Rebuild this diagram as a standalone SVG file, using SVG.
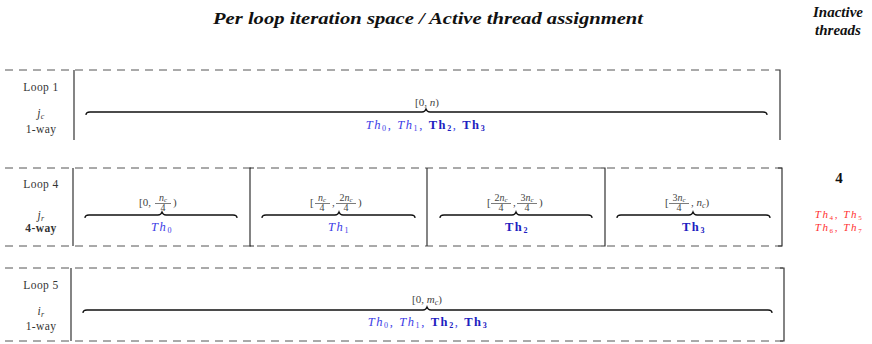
<svg xmlns="http://www.w3.org/2000/svg" width="872" height="344" viewBox="0 0 872 344" font-family="'Liberation Serif', 'DejaVu Serif', serif">
<style>
text{font-family:'Liberation Serif','DejaVu Serif',serif}
.ttl{font-size:16px;font-weight:bold;font-style:italic;fill:#111}
.lbl{font-size:11.5px;fill:#333;letter-spacing:0.4px}
.it{font-style:italic}
.b{font-weight:bold;font-style:normal}
.sub{font-size:8px}
.rng{font-size:11px;fill:#444}
.fr{font-size:10px;fill:#444}
.fr .sub{font-size:7px}
.blue{fill:#3c3ce6;font-size:12.5px;letter-spacing:1.6px}
.bb{fill:#2020c0}
.red{fill:#ff3030;font-size:11px;letter-spacing:1.6px}
.red .sub{font-size:7px}
.dash{stroke:#555;stroke-width:1;stroke-dasharray:8 6;fill:none}
.side{stroke:#333;stroke-width:1.2;fill:none}
.bar{stroke:#444;stroke-width:0.7}
.brace{stroke:#111;stroke-width:1.3;fill:none}
</style>

<g id="header">
<text class="ttl" x="428" y="24" text-anchor="middle" textLength="430" lengthAdjust="spacingAndGlyphs">Per loop iteration space / Active thread assignment</text>
<text class="ttl" x="838" y="17" text-anchor="middle" style="font-size:15px">Inactive</text>
<text class="ttl" x="838" y="35" text-anchor="middle" style="font-size:15px">threads</text>
</g>

<!-- Loop 1 -->
<g id="loop1">
<path class="dash" d="M5,70 H776"/>
<path class="side" d="M74,70 V140"/>
<path class="side" d="M776,70 H780 V140"/>
<text class="lbl" x="41" y="91" text-anchor="middle">Loop 1</text>
<text class="lbl" x="41" y="117" text-anchor="middle"><tspan class="it">j</tspan><tspan class="sub it" dy="1.5">c</tspan></text>
<text class="lbl" x="41" y="133" text-anchor="middle">1-way</text>
<path class="brace" d="M86,115 Q86,112 90,112 L422,112 Q425,112 426,109 Q427,112 430,112 L763,112 Q767,112 767,115"/>
<text class="rng" x="427" y="106" text-anchor="middle">[0, <tspan class="it">n</tspan>)</text>
<text class="blue" x="426" y="129" text-anchor="middle"><tspan class="it">Th</tspan><tspan class="sub" dy="2">0</tspan><tspan dy="-2">, </tspan><tspan class="it">Th</tspan><tspan class="sub" dy="2">1</tspan><tspan dy="-2">, </tspan><tspan class="b bb">Th</tspan><tspan class="sub b bb" dy="2">2</tspan><tspan dy="-2">, </tspan><tspan class="b bb">Th</tspan><tspan class="sub b bb" dy="2">3</tspan></text>
</g>

<!-- Loop 4 -->
<g id="loop4">
<path class="dash" d="M5,168 H782"/>
<path class="dash" d="M5,246 H782"/>
<path class="side" d="M73,168 V246"/>
<path class="side" d="M254,168 H250 V246 H254"/>
<path class="side" d="M427,168 V246"/>
<path class="side" d="M601,168 H605 V246 H601"/>
<path class="side" d="M778,168 H782 V246 H778"/>
<text class="lbl" x="41" y="188" text-anchor="middle">Loop 4</text>
<text class="lbl" x="41" y="219" text-anchor="middle"><tspan class="it">j</tspan><tspan class="sub it" dy="1.5">r</tspan></text>
<text class="lbl b" x="41" y="232" text-anchor="middle">4-way</text>

<!-- brace 1 -->
<path class="brace" d="M85,218 Q85,215 89,215 L158,215 Q161,215 162,212 Q163,215 166,215 L233,215 Q237,215 237,218"/>
<text class="rng" x="139" y="206">[0,</text>
<text class="fr" x="163" y="200.5" text-anchor="middle"><tspan class="it">n</tspan><tspan class="sub it" dy="1.5">c</tspan></text>
<line class="bar" x1="155" y1="203.5" x2="171" y2="203.5"/>
<text class="fr" x="163" y="211" text-anchor="middle">4</text>
<text class="rng" x="173" y="206">)</text>
<text class="blue" x="162" y="231" text-anchor="middle"><tspan class="it">Th</tspan><tspan class="sub" dy="2">0</tspan></text>

<!-- brace 2 -->
<path class="brace" d="M262,218 Q262,215 266,215 L335,215 Q338,215 339,212 Q340,215 343,215 L411,215 Q415,215 415,218"/>
<text class="rng" x="310" y="206">[</text>
<text class="fr" x="322" y="200.5" text-anchor="middle"><tspan class="it">n</tspan><tspan class="sub it" dy="1.5">c</tspan></text>
<line class="bar" x1="315" y1="203.5" x2="330" y2="203.5"/>
<text class="fr" x="322" y="211" text-anchor="middle">4</text>
<text class="rng" x="332" y="206">,</text>
<text class="fr" x="346" y="200.5" text-anchor="middle">2<tspan class="it">n</tspan><tspan class="sub it" dy="1.5">c</tspan></text>
<line class="bar" x1="336" y1="203.5" x2="356" y2="203.5"/>
<text class="fr" x="346" y="211" text-anchor="middle">4</text>
<text class="rng" x="358" y="206">)</text>
<text class="blue" x="339" y="231" text-anchor="middle"><tspan class="it">Th</tspan><tspan class="sub" dy="2">1</tspan></text>

<!-- brace 3 -->
<path class="brace" d="M440,218 Q440,215 444,215 L512,215 Q515,215 516,212 Q517,215 520,215 L588,215 Q592,215 592,218"/>
<text class="rng" x="487" y="206">[</text>
<text class="fr" x="501" y="200.5" text-anchor="middle">2<tspan class="it">n</tspan><tspan class="sub it" dy="1.5">c</tspan></text>
<line class="bar" x1="491" y1="203.5" x2="511" y2="203.5"/>
<text class="fr" x="501" y="211" text-anchor="middle">4</text>
<text class="rng" x="513" y="206">,</text>
<text class="fr" x="527" y="200.5" text-anchor="middle">3<tspan class="it">n</tspan><tspan class="sub it" dy="1.5">c</tspan></text>
<line class="bar" x1="517" y1="203.5" x2="537" y2="203.5"/>
<text class="fr" x="527" y="211" text-anchor="middle">4</text>
<text class="rng" x="539" y="206">)</text>
<text class="blue bb b" x="517" y="231" text-anchor="middle">Th<tspan class="sub" dy="2">2</tspan></text>

<!-- brace 4 -->
<path class="brace" d="M617,218 Q617,215 621,215 L689,215 Q692,215 693,212 Q694,215 697,215 L766,215 Q770,215 770,218"/>
<text class="rng" x="665" y="206">[</text>
<text class="fr" x="679" y="200.5" text-anchor="middle">3<tspan class="it">n</tspan><tspan class="sub it" dy="1.5">c</tspan></text>
<line class="bar" x1="669" y1="203.5" x2="689" y2="203.5"/>
<text class="fr" x="679" y="211" text-anchor="middle">4</text>
<text class="rng" x="691" y="206">, <tspan class="it">n</tspan><tspan class="sub it" dy="1.5" style="font-size:8px">c</tspan><tspan dy="-1.5">)</tspan></text>
<text class="blue bb b" x="694" y="231" text-anchor="middle">Th<tspan class="sub" dy="2">3</tspan></text>
</g>

<g id="inactive">
<text x="839" y="183" text-anchor="middle" style="font-size:15px;font-weight:bold;fill:#111">4</text>
<text class="red" x="839" y="218" text-anchor="middle"><tspan class="it">Th</tspan><tspan class="sub" dy="1.5">4</tspan><tspan dy="-1.5">, </tspan><tspan class="it">Th</tspan><tspan class="sub" dy="1.5">5</tspan></text>
<text class="red" x="839" y="231" text-anchor="middle"><tspan class="it">Th</tspan><tspan class="sub" dy="1.5">6</tspan><tspan dy="-1.5">, </tspan><tspan class="it">Th</tspan><tspan class="sub" dy="1.5">7</tspan></text>
</g>

<!-- Loop 5 -->
<g id="loop5">
<path class="dash" d="M5,268 H784"/>
<path class="dash" d="M5,341 H784"/>
<path class="side" d="M71,268 V341"/>
<path class="side" d="M780,268 H784 V341 H780"/>
<text class="lbl" x="41" y="289" text-anchor="middle">Loop 5</text>
<text class="lbl" x="41" y="315" text-anchor="middle"><tspan class="it">i</tspan><tspan class="sub it" dy="1.5">r</tspan></text>
<text class="lbl" x="41" y="330" text-anchor="middle">1-way</text>
<path class="brace" d="M83,313 Q83,310 87,310 L423,310 Q426,310 427,307 Q428,310 431,310 L768,310 Q772,310 772,313"/>
<text class="rng" x="427" y="303" text-anchor="middle">[0, <tspan class="it">m</tspan><tspan class="sub it" dy="1.5">c</tspan><tspan dy="-1.5">)</tspan></text>
<text class="blue" x="428" y="326" text-anchor="middle"><tspan class="it">Th</tspan><tspan class="sub" dy="2">0</tspan><tspan dy="-2">, </tspan><tspan class="it">Th</tspan><tspan class="sub" dy="2">1</tspan><tspan dy="-2">, </tspan><tspan class="b bb">Th</tspan><tspan class="sub b bb" dy="2">2</tspan><tspan dy="-2">, </tspan><tspan class="b bb">Th</tspan><tspan class="sub b bb" dy="2">3</tspan></text>
</g>
</svg>
